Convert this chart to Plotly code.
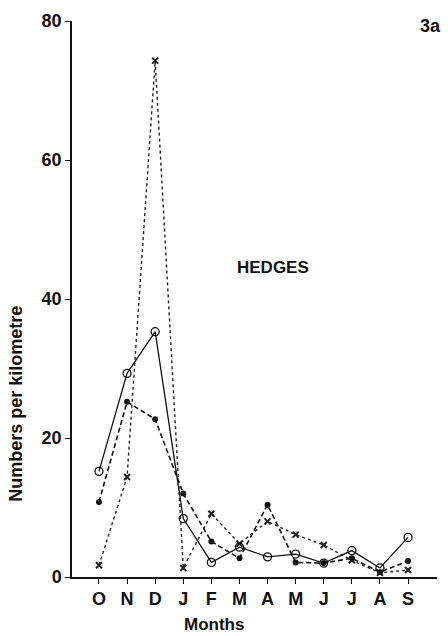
import plotly.graph_objects as go

months = ["O", "N", "D", "J", "F", "M", "A", "M", "J", "J", "A", "S"]
open_circle = [15.2, 29.3, 35.3, 8.4, 2.1, 4.3, 2.9, 3.3, 2.0, 3.8, 1.3, 5.7]
filled_circle = [10.8, 25.2, 22.7, 12.0, 5.1, 2.7, 10.4, 2.1, 2.0, 2.7, 0.7, 2.3]
crosses = [1.7, 14.4, 74.3, 1.3, 9.1, 4.8, 8.0, 6.1, 4.6, 2.4, 0.6, 1.0]
y_ticks = [0, 20, 40, 60, 80]

x = list(range(len(months)))
FONT = "Liberation Sans"

fig = go.Figure()
fig.add_trace(go.Scatter(
    x=x, y=crosses, mode="lines+markers",
    line=dict(color="#222", width=1.4, dash="dot"),
    marker=dict(symbol="x-thin", size=6, line=dict(color="#222", width=2), color="#222"),
))
fig.add_trace(go.Scatter(
    x=x, y=filled_circle, mode="lines+markers",
    line=dict(color="#111", width=1.6, dash="5px,3px"),
    marker=dict(symbol="circle", size=6, color="#111"),
))
fig.add_trace(go.Scatter(
    x=x, y=open_circle, mode="lines+markers",
    line=dict(color="#111", width=1.3),
    marker=dict(symbol="circle-open", size=8, color="#111", line=dict(width=1.3)),
))

fig.update_layout(
    width=448, height=636,
    margin=dict(l=72, r=11, t=15, b=59),
    paper_bgcolor="white", plot_bgcolor="white",
    showlegend=False,
    font=dict(family=FONT, color="#111"),
    xaxis=dict(
        range=[-0.96, 12.03], tickvals=x, ticktext=months,
        showline=True, linecolor="#111", linewidth=1.5,
        ticks="outside", ticklen=5, tickwidth=1.2, tickcolor="#111",
        showgrid=False, zeroline=False,
        tickfont=dict(family=FONT, size=18, weight="bold", color="#111"),
    ),
    yaxis=dict(
        range=[0, 80], tickvals=y_ticks,
        showline=True, linecolor="#111", linewidth=1.5,
        ticks="outside", ticklen=5, tickwidth=1.2, tickcolor="#111",
        showgrid=False, zeroline=False,
        tickfont=dict(family=FONT, size=18, weight="bold", color="#111"),
    ),
    annotations=[
        dict(text="HEDGES", x=273, y=264, showarrow=False,
             font=dict(family=FONT, size=17, weight="bold")),
        dict(text="3a", x=430, y=20, showarrow=False,
             font=dict(family=FONT, size=18, weight="bold")),
        dict(text="Months", x=214, y=625, showarrow=False,
             font=dict(family=FONT, size=17, weight="bold")),
        dict(text="Numbers per kilometre", x=16, y=402, textangle=-90, showarrow=False,
             font=dict(family=FONT, size=18, weight="bold")),
    ],
)

# convert pixel positions of annotations into paper coordinates
W, H = 448, 636
l, r, t, b = 72, 11, 15, 59
pw, ph = W - l - r, H - t - b
for a in fig.layout.annotations:
    px, py = a.x, a.y
    a.update(xref="paper", yref="paper", x=(px - l) / pw, y=(H - b - py) / ph,
             xanchor="center", yanchor="middle")

fig.write_html("out.html")
